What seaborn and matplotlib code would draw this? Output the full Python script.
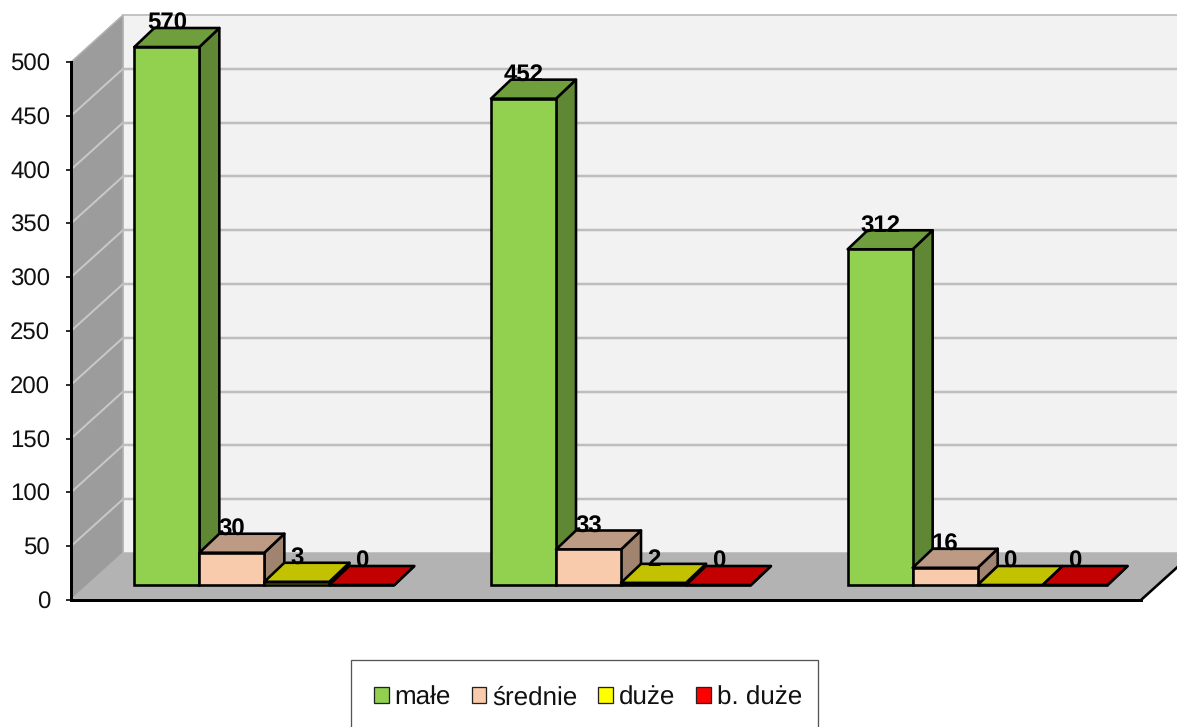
import numpy as np
import pandas as pd
import matplotlib
matplotlib.use("Agg")
import matplotlib.pyplot as plt
from matplotlib.colors import to_rgb
from matplotlib.patches import Patch, Polygon, Rectangle
from matplotlib.transforms import Affine2D, IdentityTransform
import seaborn as sns

groups = ["1", "2", "3"]
sizes = ["małe", "średnie", "duże", "b. duże"]
male = [570, 452, 312]
srednie = [30, 33, 16]
duze = [3, 2, 0]
b_duze = [0, 0, 0]
colors = ["#92D050", "#F8CBAD", "#FFFF00", "#FF0000"]
y_ticks = [0, 50, 100, 150, 200, 250, 300, 350, 400, 450, 500]
Y_MAX = 500

sns.set_theme(style="white")
plt.rcParams["font.family"] = ["Liberation Sans", "DejaVu Sans"]
plt.rcParams["text.hinting"] = "no_hinting"
plt.rcParams["text.hinting_factor"] = 1

W, H = 1177, 727
PX = 72 / 100
fig = plt.figure(figsize=(W / 100, H / 100), dpi=100, facecolor="white")
ax = fig.add_axes([71 / W, (H - 600) / H, 1070 / W, 538 / H])
ax.patch.set_visible(False)

series = [male, srednie, duze, b_duze]
df = pd.DataFrame({
    "group": groups * len(sizes),
    "size": [s for s in sizes for _ in groups],
    "value": [v for vals in series for v in vals],
})
df["drawn"] = df["value"].clip(upper=Y_MAX)

EDGE = 2.6 * PX
sns.barplot(data=df, x="group", y="drawn", hue="size", order=groups, hue_order=sizes,
            palette=colors, saturation=1, width=0.729, gap=0, legend=False,
            edgecolor="black", linewidth=EDGE, ax=ax)

ax.set_ylim(0, Y_MAX)
ax.set_xlim(-0.5, len(groups) - 0.5)
ax.set_yticks(y_ticks)
ax.set_xticks([])
ax.set_xlabel("")
ax.set_ylabel("")
ax.tick_params(axis="y", left=True, length=5 * PX, width=1.6 * PX, color="black",
               labelsize=17.6, labelcolor="#111111", pad=16 * PX)
for name in ("top", "right"):
    ax.spines[name].set_visible(False)
for name in ("left", "bottom"):
    ax.spines[name].set_color("black")
    ax.spines[name].set_linewidth(3 * PX)

# pseudo-3D depth, in display pixels
WALL_D = (52, 47)
BAR_OFF = (15, 15)
BAR_D = (20, 19)
ident = IdentityTransform()


def disp(x, y, d=(0, 0)):
    p = ax.transData.transform((x, y))
    return (p[0] + d[0], p[1] + d[1])


def poly(points, fc, ec="none", lw=0.0, z=1.0):
    ax.add_patch(Polygon(points, closed=True, facecolor=fc, edgecolor=ec, linewidth=lw,
                         transform=ident, clip_on=False, zorder=z, joinstyle="round"))


x0, x1 = ax.get_xlim()
poly([disp(x0, 0, WALL_D), disp(x1, 0, WALL_D), disp(x1, Y_MAX, WALL_D), disp(x0, Y_MAX, WALL_D)],
     "#F2F2F2", "#C4C4C4", 2 * PX, 0.5)
poly([disp(x0, 0), disp(x0, 0, WALL_D), disp(x0, Y_MAX, WALL_D), disp(x0, Y_MAX)],
     "#9C9C9C", "#B4B4B4", 1.5 * PX, 0.6)
poly([disp(x0, 0), disp(x1, 0), disp(x1, 0, WALL_D), disp(x0, 0, WALL_D)],
     "#B3B3B3", "none", 0, 0.7)
for t in y_ticks[1:-1]:
    a, b = disp(x0, t), disp(x0, t, WALL_D)
    c = disp(x1, t, WALL_D)
    ax.add_line(plt.Line2D([a[0], b[0]], [a[1], b[1]], color="#C8C8C8", lw=2 * PX,
                           transform=ident, clip_on=False, zorder=0.8))
    ax.add_line(plt.Line2D([b[0], c[0]], [b[1], c[1]], color="#BEBEBE", lw=2.5 * PX,
                           transform=ident, clip_on=False, zorder=0.8))
a, b = disp(x1, 0), disp(x1, 0, WALL_D)
ax.add_line(plt.Line2D([a[0], b[0]], [a[1], b[1]], color="black", lw=2.6 * PX,
                       transform=ident, clip_on=False, zorder=2.6))

# bars: shift the front faces and add top and side faces
bars = []
for h_i, cont in enumerate(ax.containers):
    for g_i, bar in enumerate(cont):
        bars.append((bar, h_i, series[h_i][g_i]))
bars.sort(key=lambda b: b[0].get_x())

shift = ax.transData + Affine2D().translate(*BAR_OFF)
for i, (bar, h_i, value) in enumerate(bars):
    z = 3 + i * 0.1
    bx, bw, bh = bar.get_x(), bar.get_width(), bar.get_height()
    base = np.array(to_rgb(colors[h_i]))
    off = BAR_OFF
    deep = (BAR_OFF[0] + BAR_D[0], BAR_OFF[1] + BAR_D[1])
    poly([disp(bx + bw, 0, off), disp(bx + bw, 0, deep), disp(bx + bw, bh, deep), disp(bx + bw, bh, off)],
         tuple(base * 0.65), "black", EDGE, z)
    poly([disp(bx, bh, off), disp(bx + bw, bh, off), disp(bx + bw, bh, deep), disp(bx, bh, deep)],
         tuple(base * 0.76), "black", EDGE, z + 0.01)
    bar.set_transform(shift)
    bar.set_clip_on(False)
    bar.set_zorder(z + 0.02)
    ax.annotate(f"{value}", xy=(bx + bw / 2, bh), xycoords="data",
                xytext=(BAR_OFF[0] * PX, (BAR_OFF[1] + 23) * PX), textcoords="offset points",
                ha="center", va="center", fontsize=17.6, fontweight="bold", color="black",
                annotation_clip=False, zorder=20)

# legend
fig.add_artist(Rectangle((351 / W, -0.05), 467 / W, (H - 660) / H + 0.05, transform=fig.transFigure,
                         facecolor="white", edgecolor="#555555", linewidth=1.3 * PX))
handles = [Patch(facecolor=c, edgecolor="#222222", linewidth=1.3 * PX) for c in colors]
fig.legend(handles, sizes, ncol=4, loc="center", bbox_to_anchor=(588 / W, (H - 698) / H),
           frameon=False, fontsize=18.9, handlelength=0.56, handleheight=0.56,
           handletextpad=0.22, columnspacing=0.8, labelcolor="#111111", borderpad=0, borderaxespad=0)

fig.savefig("out.png", dpi=100)
